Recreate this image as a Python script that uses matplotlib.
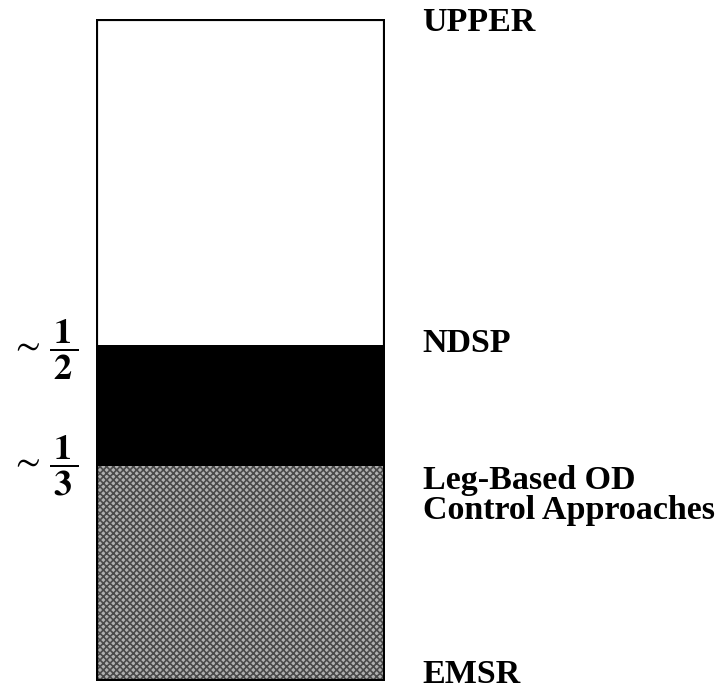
import matplotlib.pyplot as plt
import matplotlib.transforms as mtransforms

plt.rcParams['font.family'] = ['Liberation Serif', 'DejaVu Serif']
plt.rcParams['mathtext.fontset'] = 'stix'
plt.rcParams['hatch.linewidth'] = 1.2

# segment boundaries (fraction of the bar), bottom to top
seg_bottom = [0.0, 0.325, 0.507]
seg_height = [0.325, 0.182, 0.493]
seg_color = ['#b0b0b0', 'black', 'white']
seg_hatch = ['xxxxx', None, None]

# labels on the right of the bar
right_labels = ['UPPER', 'NDSP', 'Leg-Based OD\nControl Approaches', 'EMSR']
right_y = [0.995, 0.51, 0.28, 0.01]

# approximate fractions on the left
left_labels = [r'$\sim\,\dfrac{\,\mathbf{1}\,}{\,\mathbf{2}\,}$',
               r'$\sim\,\dfrac{\,\mathbf{1}\,}{\,\mathbf{3}\,}$']
left_y = [0.50, 0.325]

fig = plt.figure(figsize=(7.19, 6.97), dpi=100)
ax = fig.add_axes([96 / 719, 16 / 697, 289 / 719, 662 / 697])

for b, h, col, hat in zip(seg_bottom, seg_height, seg_color, seg_hatch):
    ax.bar(0, h, bottom=b, width=1.0, color=col, hatch=hat,
           edgecolor='#4a4a4a' if hat else col, linewidth=0)
# outline of the whole bar
ax.bar(0, sum(seg_height), width=1.0, fill=False, edgecolor='black', linewidth=3.0)

ax.set_xlim(-0.5, 0.5)
ax.set_ylim(0, 1)
ax.axis('off')

trans = mtransforms.blended_transform_factory(ax.transAxes, ax.transData)
for lab, y in zip(right_labels, right_y):
    ax.text(1.13, y, lab, transform=trans, ha='left', va='center',
            fontsize=24.5, fontweight='bold', linespacing=0.95, clip_on=False)
for lab, y in zip(left_labels, left_y):
    ax.text(-0.06, y, lab, transform=trans, ha='right', va='center',
            fontsize=26, clip_on=False)

fig.savefig('out.png', dpi=100)
